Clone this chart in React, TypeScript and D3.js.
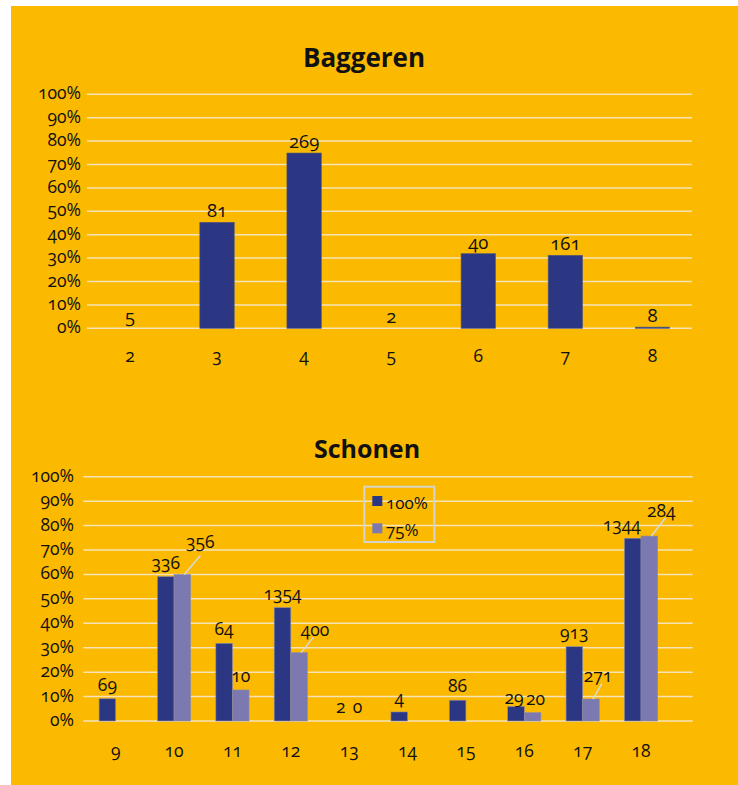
import React from 'react';
import * as d3 from 'd3';

const W = 738;
const H = 785;
const BG = '#fbb900';
const DARK = '#2b3783';
const LIGHT = '#7c79b1';
const GRID = '#f6e4b8';
const FONT = '"Open Sans", "DejaVu Sans", sans-serif';
const NUM: React.CSSProperties = { fontVariantNumeric: 'oldstyle-nums' };

// Baggeren
const bagCategories = ['2', '3', '4', '5', '6', '7', '8'];
const bagValues = [0, 45.3, 74.9, 0, 31.9, 31.2, 0.5];
const bagLabels = ['5', '81', '269', '2', '40', '161', '8'];

// Schonen
const schCategories = ['9', '10', '11', '12', '13', '14', '15', '16', '17', '18'];
const seriesNames = ['100%', '75%'];
const schFull = [9.1, 59.1, 31.8, 46.4, 0, 3.7, 8.5, 5.9, 30.4, 74.8];
const schPart = [0, 60.0, 12.7, 28.0, 0, 0, 0, 3.4, 9.0, 75.7];
const schFullLabels = ['69', '336', '64', '1354', '2', '4', '86', '29', '913', '1344'];
const schPartLabels = ['', '356', '10', '400', '0', '', '', '20', '271', '284'];

const yTickValues = [0, 10, 20, 30, 40, 50, 60, 70, 80, 90, 100];

// label nudges (some 75% labels are pulled out with a leader line)
type Nudge = { dx: number; dy: number; lx?: number; ly?: number };
const fullNudge: Record<string, Nudge> = {
  '16': { dx: -2, dy: 5 },
  '18': { dx: -11, dy: 1 },
};
const partNudge: Record<string, Nudge> = {
  '10': { dx: 18, dy: -18, lx: 0, ly: 13 },
  '12': { dx: 16, dy: -9, lx: -2, ly: 8 },
  '16': { dx: 3, dy: 0 },
  '17': { dx: 7, dy: -9.5, lx: 4, ly: 8 },
  '18': { dx: 12, dy: -11, lx: 4, ly: 7 },
};

function Grid({ y, x0, x1, tickX }: { y: d3.ScaleLinear<number, number>; x0: number; x1: number; tickX: number }) {
  return (
    <g>
      {yTickValues.map((t) => (
        <g key={t}>
          <line x1={x0} x2={x1} y1={y(t)} y2={y(t)} stroke={GRID} strokeWidth={1.5} />
          <text x={tickX} y={y(t) + 5} textAnchor="end" fontSize={17.5} fill="#111" style={NUM}>
            {t}%
          </text>
        </g>
      ))}
    </g>
  );
}

function Baggeren() {
  const x = d3.scaleBand<string>().domain(bagCategories).range([86.4, 696]);
  const y = d3.scaleLinear().domain([0, 100]).range([328.3, 94.3]);
  const bw = x.bandwidth() * 0.395;
  return (
    <g>
      <text x={364} y={67} textAnchor="middle" fontSize={26} fontWeight={700} fill="#111">
        Baggeren
      </text>
      <Grid y={y} x0={87} x1={692} tickX={81} />
      {bagCategories.map((c, i) => {
        const cx = (x(c) as number) + x.bandwidth() / 2;
        const top = y(bagValues[i]);
        return (
          <g key={c}>
            {bagValues[i] > 0 && (
              <rect x={cx - bw / 2} y={top} width={bw} height={y(0) - top} fill={DARK} stroke="#55587a" strokeWidth={0.6} />
            )}
            <text x={cx} y={top - 5} textAnchor="middle" fontSize={18.5} fill="#111" style={NUM}>
              {bagLabels[i]}
            </text>
            <text x={cx} y={362} textAnchor="middle" fontSize={17.5} fill="#111" style={NUM}>
              {c}
            </text>
          </g>
        );
      })}
    </g>
  );
}

function Schonen() {
  const x = d3.scaleBand<string>().domain(schCategories).range([86.5, 670.2]);
  const inner = d3.scaleBand<string>().domain(seriesNames).range([0, 33.2]);
  const y = d3.scaleLinear().domain([0, 100]).range([721, 476.7]);
  const series = [
    { name: seriesNames[0], values: schFull, labels: schFullLabels, color: DARK, nudge: fullNudge },
    { name: seriesNames[1], values: schPart, labels: schPartLabels, color: LIGHT, nudge: partNudge },
  ];
  return (
    <g>
      <text x={367} y={458} textAnchor="middle" fontSize={25} fontWeight={700} fill="#111">
        Schonen
      </text>
      <Grid y={y} x0={83.3} x1={692.7} tickX={74} />
      {schCategories.map((c, i) => {
        const gx = (x(c) as number) + x.bandwidth() / 2 - 16.6;
        return (
          <g key={c}>
            {series.map((s) => {
              const bx = gx + (inner(s.name) as number);
              const bcx = bx + inner.bandwidth() / 2;
              const top = y(s.values[i]);
              const n = s.nudge[c] || { dx: 0, dy: 0 };
              const lxp = bcx + n.dx;
              const lyp = top - 8 + n.dy;
              return (
                <g key={s.name}>
                  {s.values[i] > 0 && (
                    <rect x={bx} y={top} width={inner.bandwidth()} height={y(0) - top} fill={s.color} stroke="#8d8ca6" strokeWidth={0.6} />
                  )}
                  {n.lx !== undefined && (
                    <line x1={bcx + 2} y1={top} x2={lxp + (n.lx || 0)} y2={lyp - 6 + (n.ly || 0)} stroke="#d8d8d8" strokeWidth={1.5} />
                  )}
                  {s.labels[i] && (
                    <text x={lxp} y={lyp} textAnchor="middle" fontSize={17.5} fill="#111" style={NUM}>
                      {s.labels[i]}
                    </text>
                  )}
                </g>
              );
            })}
            <text x={(x(c) as number) + x.bandwidth() / 2} y={757} textAnchor="middle" fontSize={17.5} fill="#111" style={NUM}>
              {c}
            </text>
          </g>
        );
      })}
      <g>
        <rect x={364.3} y={486.7} width={70} height={55.3} fill="none" stroke="#d6d3cb" strokeWidth={2} />
        {series.map((s, i) => (
          <g key={s.name}>
            <rect x={372.3} y={496 + i * 27.3} width={10} height={10} fill={s.color} />
            <text x={386} y={508.5 + i * 27.3} fontSize={17} fill="#111" style={NUM}>
              {s.name}
            </text>
          </g>
        ))}
      </g>
    </g>
  );
}

export default function App() {
  return (
    <svg
      width={W}
      height={H}
      style={{ position: 'absolute', left: 0, top: 0, fontFamily: FONT }}
    >
      <rect x={0} y={0} width={W} height={H} fill="#fff" />
      <rect x={11} y={6} width={W - 11} height={H - 6} fill={BG} />
      <Baggeren />
      <Schonen />
    </svg>
  );
}
